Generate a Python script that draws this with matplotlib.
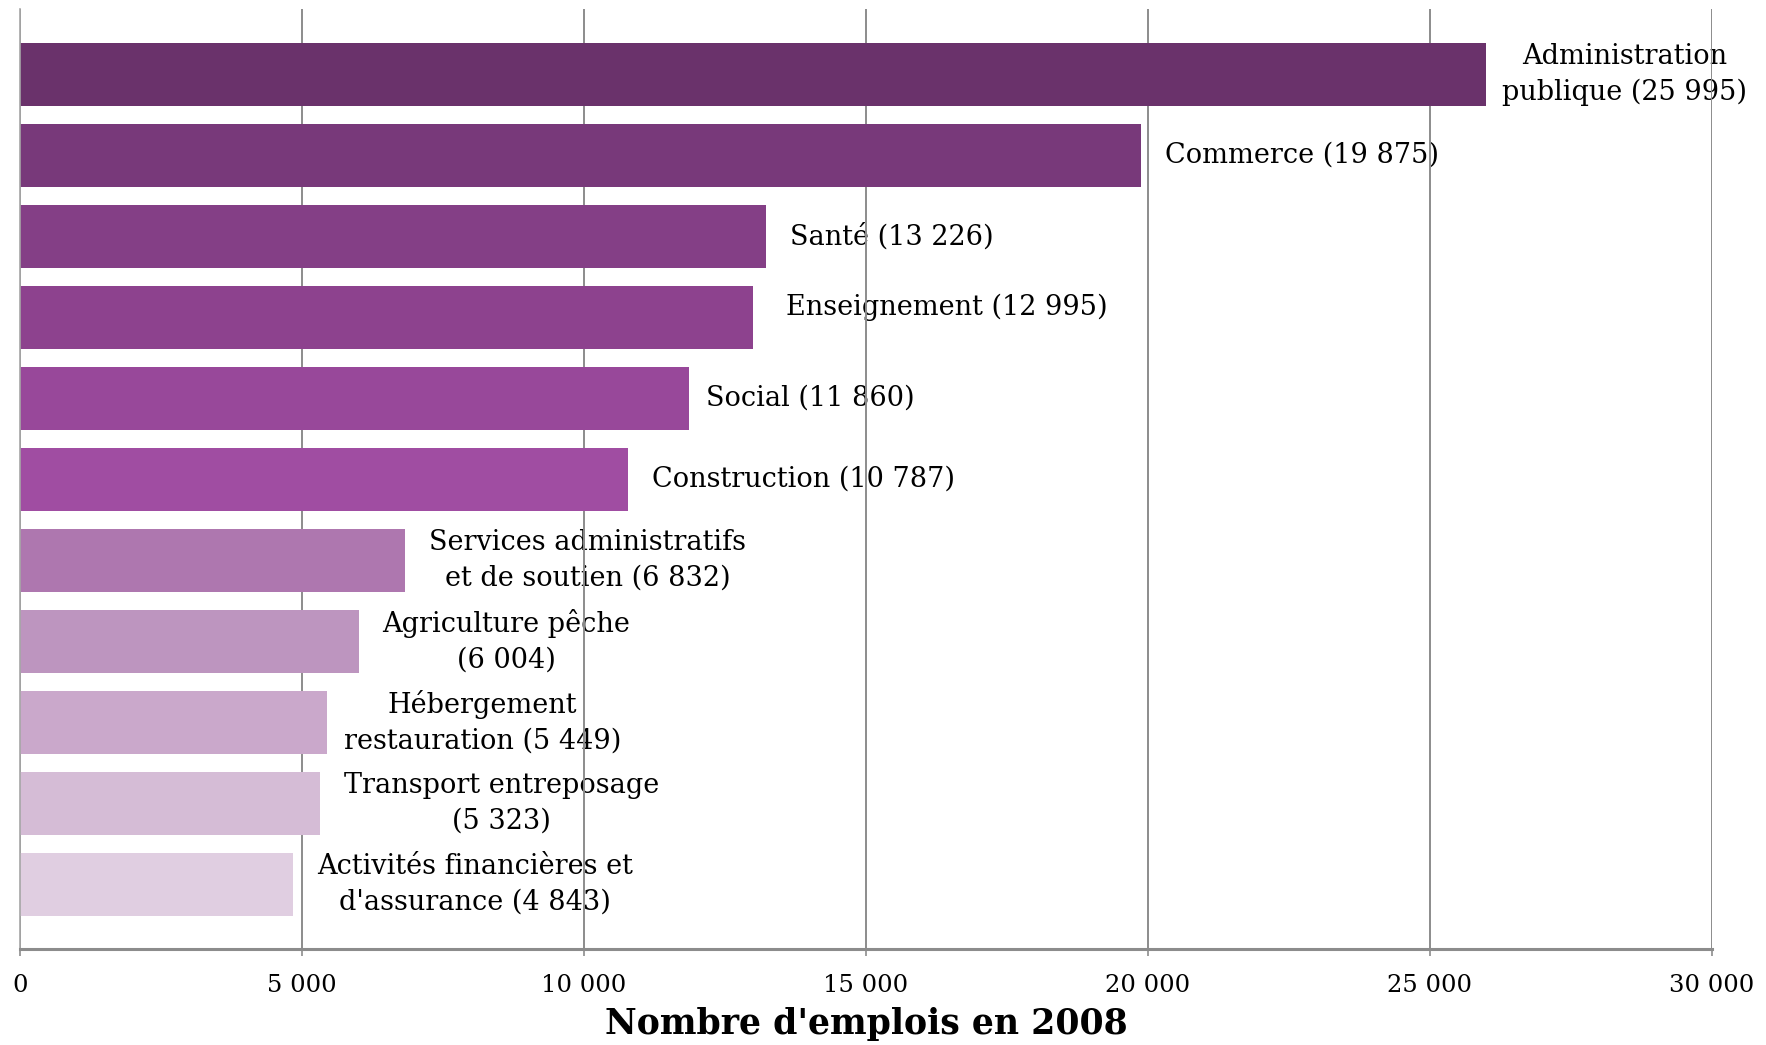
import matplotlib
matplotlib.use("Agg")
import matplotlib.pyplot as plt
from matplotlib.ticker import MultipleLocator, FuncFormatter

# Data: emplois par secteur en 2008
secteurs = ["Administration", "Commerce", "Santé", "Enseignement", "Social",
            "Construction", "Services administratifs", "Agriculture pêche",
            "Hébergement", "Transport entreposage", "Activités financières et"]
suite = ["publique", "", "", "", "", "", "et de soutien", "", "restauration",
         "", "d'assurance"]
emplois = [25995, 19875, 13226, 12995, 11860, 10787, 6832, 6004, 5449, 5323, 4843]

colors = ["#6A326B", "#78397A", "#843F86", "#8D428E", "#98489A", "#A04DA2",
          "#AE77AF", "#BD95BF", "#CAA8CB", "#D5BCD6", "#E0CEE1"]
# label offsets (points) from bar end
gaps = [11.5, 17, 17, 24, 12, 17, 17, 17, 12, 17, 17]
dys = [0, 0, 0, 7, 0, 0, 0, 0, 0, 0, 0]

serif = "DejaVu Serif"


def fmt(v):
    return f"{int(v):,}".replace(",", " ")


fig = plt.figure(figsize=(17.66, 10.45), dpi=100)
ax = fig.add_axes([0.0113, 0.0919, 0.9581, 0.8995])

pos = list(range(len(emplois)))
ax.barh(pos, emplois, height=0.78, color=colors, zorder=2)

for i, (name, rest, v) in enumerate(zip(secteurs, suite, emplois)):
    if rest:
        txt = f"{name}\n{rest} ({fmt(v)})"
    elif name in ("Agriculture pêche", "Transport entreposage"):
        txt = f"{name}\n({fmt(v)})"
    else:
        txt = f"{name} ({fmt(v)})"
    ax.annotate(txt, xy=(v, i), xytext=(gaps[i], dys[i]), textcoords="offset points",
                ha="left", va="center", multialignment="center",
                fontsize=19.5, family=serif, color="black", linespacing=1.4,
                zorder=0.4)

ax.set_xlim(0, 30000)
ax.set_ylim(10.8, -0.81)
ax.xaxis.set_major_locator(MultipleLocator(5000))
ax.xaxis.set_major_formatter(FuncFormatter(lambda x, p: fmt(x)))
ax.set_yticks([])

ax.grid(axis="x", color="#8C8C8C", linewidth=1.4, zorder=1)
ax.set_axisbelow(True)

for s in ("top", "right"):
    ax.spines[s].set_visible(False)
ax.spines["left"].set_color("#A6A6A6")
ax.spines["left"].set_linewidth(1.2)
ax.spines["bottom"].set_color("#8C8C8C")
ax.spines["bottom"].set_linewidth(2.2)

ax.tick_params(axis="x", length=5, width=1.2, color="#8C8C8C", pad=13,
               labelsize=17.5)
for lab in ax.get_xticklabels():
    lab.set_family(serif)

ax.set_xlabel("Nombre d'emplois en 2008", fontsize=25, fontweight="bold",
              family=serif, labelpad=7)

fig.savefig("out.png", dpi=100)
